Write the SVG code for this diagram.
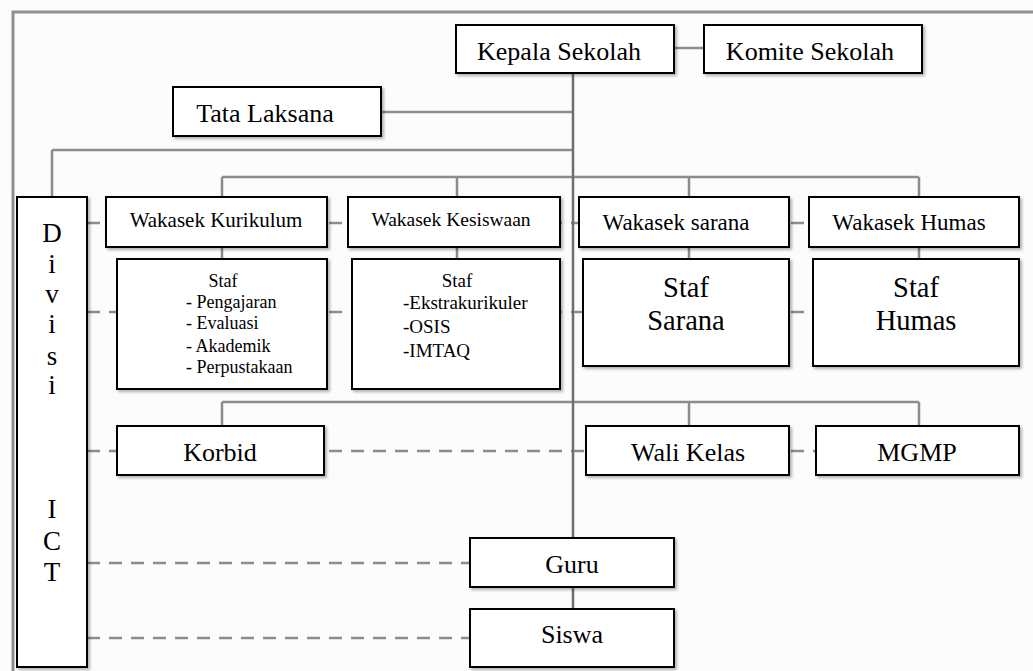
<svg xmlns="http://www.w3.org/2000/svg" width="1033" height="671" viewBox="0 0 1033 671">
<defs>
<filter id="sh" x="-10%" y="-10%" width="120%" height="130%">
<feDropShadow dx="2" dy="2" stdDeviation="1.5" flood-color="#000" flood-opacity="0.3"/>
</filter>
</defs>
<style>
.bx{fill:#fff;stroke:#000;stroke-width:2;filter:url(#sh)}
.t{font-family:"Liberation Serif","Times New Roman",serif;fill:#000;text-anchor:middle}
.ln{stroke:#8c8c8c;stroke-width:2.5;fill:none}
.tr{stroke:#6e6e6e;stroke-width:2.5;fill:none}
.ds{stroke:#8c8c8c;stroke-width:2.5;fill:none;stroke-dasharray:13 9}
.fr{stroke:#8f8f8f;stroke-width:3;fill:none}
</style>
<rect x="0" y="0" width="1033" height="671" fill="#fcfcfc"/>
<path class="fr" d="M13,671 V12 H1033"/>
<g id="connectors">
<path class="ln" d="M674,48 H704"/>
<path class="ln" d="M381,112 H573"/>
<path class="ln" d="M52,150 H573 M52,150 V197"/>
<path class="ln" d="M222,177 H919 M222,177 V259 M457,177 V259 M689,177 V259 M919,177 V259"/>
<path class="ln" d="M222,402 H919 M222,402 V426 M689,402 V426 M919,402 V426"/>
<path class="ds" d="M87,223 H809"/>
<path class="ds" d="M87,312 H813"/>
<path class="ds" d="M87,451 H816"/>
<path class="ds" d="M87,563 H470"/>
<path class="ds" d="M87,638 H470"/>
<path class="tr" d="M573,73 V538 M573,587 V609"/>
</g>
<g id="kepala"><rect class="bx" x="456" y="25" width="218" height="48"/><text class="t" x="559" y="60" font-size="26">Kepala Sekolah</text></g>
<g id="komite"><rect class="bx" x="704" y="25" width="218" height="48"/><text class="t" x="810" y="60" font-size="26">Komite Sekolah</text></g>
<g id="tata"><rect class="bx" x="173" y="87" width="208" height="49"/><text class="t" x="265" y="122" font-size="26">Tata Laksana</text></g>
<g id="divisi"><rect class="bx" x="17" y="197" width="70" height="470"/>
<text class="t" font-size="27"><tspan x="52" y="242">D</tspan><tspan x="52" y="273">i</tspan><tspan x="52" y="303">v</tspan><tspan x="52" y="333">i</tspan><tspan x="52" y="365">s</tspan><tspan x="52" y="394">i</tspan><tspan x="52" y="518">I</tspan><tspan x="52" y="550">C</tspan><tspan x="52" y="581">T</tspan></text></g>
<g id="wk-kurikulum"><rect class="bx" x="106" y="197" width="221" height="50"/><text class="t" x="216" y="227" font-size="21">Wakasek Kurikulum</text></g>
<g id="wk-kesiswaan"><rect class="bx" x="348" y="197" width="212" height="50"/><text class="t" x="451" y="226" font-size="19.5">Wakasek Kesiswaan</text></g>
<g id="wk-sarana"><rect class="bx" x="579" y="197" width="210" height="50"/><text class="t" x="676" y="230" font-size="23">Wakasek sarana</text></g>
<g id="wk-humas"><rect class="bx" x="809" y="197" width="210" height="50"/><text class="t" x="909" y="230" font-size="23">Wakasek Humas</text></g>
<g id="staf-kurikulum"><rect class="bx" x="117" y="259" width="210" height="130"/>
<text class="t" x="223" y="287" font-size="18">Staf</text>
<text class="t" font-size="18" style="text-anchor:start"><tspan x="186" y="308">- Pengajaran</tspan><tspan x="186" y="329">- Evaluasi</tspan><tspan x="186" y="352">- Akademik</tspan><tspan x="186" y="373">- Perpustakaan</tspan></text></g>
<g id="staf-kesiswaan"><rect class="bx" x="352" y="259" width="208" height="130"/>
<text class="t" x="457" y="287" font-size="19">Staf</text>
<text class="t" font-size="19" style="text-anchor:start"><tspan x="403" y="309">-Ekstrakurikuler</tspan><tspan x="403" y="333">-OSIS</tspan><tspan x="403" y="357">-IMTAQ</tspan></text></g>
<g id="staf-sarana"><rect class="bx" x="583" y="259" width="206" height="107"/>
<text class="t" font-size="28.5"><tspan x="686" y="297">Staf</tspan><tspan x="686" y="330">Sarana</tspan></text></g>
<g id="staf-humas"><rect class="bx" x="813" y="259" width="206" height="107"/>
<text class="t" font-size="28.5"><tspan x="916" y="297">Staf</tspan><tspan x="916" y="330">Humas</tspan></text></g>
<g id="korbid"><rect class="bx" x="117" y="426" width="207" height="49"/><text class="t" x="220" y="461" font-size="26">Korbid</text></g>
<g id="wali-kelas"><rect class="bx" x="586" y="426" width="203" height="49"/><text class="t" x="688" y="461" font-size="26">Wali Kelas</text></g>
<g id="mgmp"><rect class="bx" x="816" y="426" width="203" height="49"/><text class="t" x="917" y="461" font-size="26">MGMP</text></g>
<g id="guru"><rect class="bx" x="470" y="538" width="204" height="49"/><text class="t" x="572" y="573" font-size="26">Guru</text></g>
<g id="siswa"><rect class="bx" x="470" y="609" width="204" height="58"/><text class="t" x="572" y="643" font-size="26">Siswa</text></g>
</svg>
